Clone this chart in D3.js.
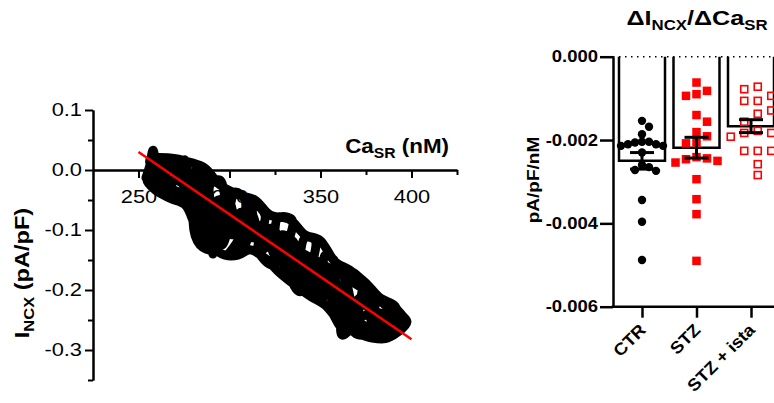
<!DOCTYPE html>
<html>
<head>
<meta charset="utf-8">
<script src="https://cdn.jsdelivr.net/npm/d3@7"></script>
<style>
body { margin: 0; background: #fff; }
svg { display: block; font-family: Arial, "Liberation Sans", sans-serif; }
</style>
</head>
<body>
<script>
// ---- left panel: I_NCX vs Ca_SR trace ----
const caSR = [254.1, 256.3, 258.0, 260.2, 263.5, 266.2, 271.7, 275.6, 278.3, 282.7, 285.4, 280.0, 283.8, 290.4, 292.0,
    289.3, 294.8, 299.2, 303.0, 308.5, 304.7, 299.2, 308.5, 314.0, 319.5, 315.7, 323.4, 326.7, 334.4, 330.5,
    336.0, 341.5, 347.0, 344.2, 350.8, 352.5, 358.0, 356.3, 363.5, 366.2, 372.8, 370.6, 377.2, 381.6, 389.3,
    394.8, 397.5, 392.6, 385.5, 381.6, 374.5, 367.3, 361.8, 360.7, 354.1, 350.8, 345.3, 338.7, 333.3, 336.0,
    328.9, 322.3, 317.9, 311.3, 312.4, 305.8, 301.4, 297.5, 292.0, 286.5, 281.0, 275.6, 270.1, 262.9, 257.4,
    255.2, 261.8, 268.4, 277.2, 283.8, 282.7, 286.5, 289.3, 286.5, 290.4, 299.2, 306.9, 314.0, 321.2, 325.0,
    332.2, 338.7, 337.6, 345.3, 348.6, 355.2, 359.6, 361.8, 367.3, 371.7, 377.2, 378.3, 385.5, 388.2, 382.7,
    376.1, 366.2, 369.5,
    393.7, 388.2, 380.0, 374.5, 367.3, 363.5, 358.0, 352.5, 347.0, 341.5, 337.6, 332.2, 326.7, 322.3, 316.8,
    311.3, 308.5, 303.0, 295.9, 293.7, 286.5, 282.7, 278.3, 272.8, 267.3, 260.7,
    256.3, 267.3, 278.3, 286.5, 294.8, 305.8, 314.0, 322.3, 333.3, 341.5, 349.7, 358.0, 366.2, 374.5, 382.7,
    391.0, 393.7, 387.1, 378.3, 369.0, 360.7, 352.5, 344.2, 336.0, 327.8, 319.5, 311.3, 304.7, 297.5, 292.0,
    286.5, 281.0, 275.6, 267.3, 259.1, 254.7,
    388.2, 382.7, 376.1, 369.0, 363.5, 358.0, 350.8, 344.2, 337.6, 331.6, 325.0, 317.9, 312.4, 305.8, 299.2,
    292.0, 290.9, 286.5, 281.0, 273.9, 267.3, 261.8];
const iNCX = [-0.013, 0.008, 0.033, 0.008, 0.020, -0.033, 0.000, 0.017, -0.050, 0.008, -0.013, -0.087, -0.125, -0.133, -0.097,
    -0.025, -0.017, -0.067, -0.037, -0.050, -0.117, -0.142, -0.125, -0.058, -0.075, -0.133, -0.158, -0.080, -0.083, -0.150,
    -0.187, -0.113, -0.117, -0.192, -0.217, -0.142, -0.153, -0.233, -0.267, -0.170, -0.187, -0.250, -0.275, -0.217, -0.225,
    -0.242, -0.253, -0.270, -0.280, -0.258, -0.242, -0.263, -0.275, -0.217, -0.200, -0.163, -0.153, -0.203, -0.175, -0.125,
    -0.108, -0.130, -0.103, -0.080, -0.113, -0.087, -0.108, -0.047, -0.058, -0.075, -0.042, -0.025, -0.017, -0.025, -0.020,
    -0.008, -0.003, 0.013, -0.003, -0.033, -0.103, -0.117, -0.108, -0.092, -0.067, -0.092, -0.070, -0.097, -0.108, -0.142,
    -0.133, -0.153, -0.175, -0.175, -0.200, -0.183, -0.192, -0.247, -0.225, -0.213, -0.200, -0.233, -0.242, -0.263, -0.280,
    -0.263, -0.250, -0.273,
    -0.263, -0.242, -0.267, -0.217, -0.242, -0.192, -0.225, -0.180, -0.208, -0.153, -0.187, -0.117, -0.153, -0.097, -0.125,
    -0.058, -0.108, -0.075, -0.125, -0.050, -0.103, -0.017, -0.037, -0.017, 0.000, -0.013,
    0.017, 0.020, 0.013, 0.003, -0.025, -0.042, -0.050, -0.075, -0.083, -0.108, -0.117, -0.153, -0.167, -0.187, -0.213,
    -0.227, -0.258, -0.280, -0.280, -0.270, -0.253, -0.225, -0.210, -0.192, -0.172, -0.147, -0.133, -0.142, -0.142, -0.133,
    -0.125, -0.092, -0.058, -0.047, -0.033, -0.017,
    -0.237, -0.263, -0.213, -0.237, -0.187, -0.217, -0.153, -0.192, -0.133, -0.167, -0.103, -0.133, -0.075, -0.113, -0.050,
    -0.087, -0.140, -0.013, -0.058, 0.003, -0.025, 0.008];
const fitCa = [250, 400];
const fitI = [0.030, -0.282];
const xMajor = [250, 300, 350, 400];
const xMinor = [275, 325, 375, 425];
const yMajor = [0.1, 0, -0.1, -0.2, -0.3];
const yMinor = [0.05, -0.05, -0.15, -0.25, -0.35];

// ---- right panel: slope per cell ----
const groups = ["CTR", "STZ", "STZ + ista"];
const ctrVals = [-0.00154, -0.00168, -0.00186, -0.00204, -0.00204, -0.00206, -0.0021, -0.0021, -0.00214, -0.00214,
    -0.0023, -0.0026, -0.00265, -0.00272, -0.00274, -0.00344, -0.00396, -0.00488];
const stzVals = [-0.00062, -0.00082, -0.0009, -0.00094, -0.0014, -0.00156, -0.00181, -0.00191, -0.00206, -0.00208,
    -0.00241, -0.00244, -0.00246, -0.0025, -0.00254, -0.00294, -0.00342, -0.00378, -0.0049];
const istaVals = [-0.00072, -0.00078, -0.00094, -0.00106, -0.00106, -0.00129, -0.00137, -0.00156, -0.00178, -0.00183,
    -0.00183, -0.00192, -0.00226, -0.00226, -0.00226, -0.00258, -0.00284];
const rTicks = [0, -0.002, -0.004, -0.006];

var W = 774, H = 403;
var svg = d3.select("body").append("svg")
    .attr("width", W)
    .attr("height", H);

// text in the source is a bit wider than Arial, so stretch it sideways
function stretch(sel, sx) {
    sel.each(function () {
        var t = d3.select(this);
        var x = +t.attr("x") || 0, y = +t.attr("y") || 0;
        t.attr("x", 0).attr("y", 0)
            .attr("transform", "translate(" + x + "," + y + ") scale(" + sx + ",1)");
    });
}

// ================= left panel =================
var xL = d3.scaleLinear().domain([225, 425]).range([93, 457]);
var yL = d3.scaleLinear().domain([-0.35, 0.1]).range([380, 110]);

var left = svg.append("g");

left.append("g")
    .attr("transform", "translate(" + xL(225) + ",0)")
    .call(d3.axisLeft(yL).tickValues(yMinor).tickSize(5).tickSizeOuter(0).tickFormat(""));
left.append("g")
    .attr("transform", "translate(" + xL(225) + ",0)")
    .call(d3.axisLeft(yL).tickValues(yMajor).tickSize(8).tickSizeOuter(0).tickPadding(3)
        .tickFormat(d => d.toFixed(1)));

left.append("g")
    .attr("transform", "translate(0," + yL(0) + ")")
    .call(d3.axisBottom(xL).tickValues(xMinor).tickSize(5).tickSizeOuter(0).tickFormat(""));
left.append("g")
    .attr("transform", "translate(0," + yL(0) + ")")
    .call(d3.axisBottom(xL).tickValues(xMajor).tickSize(8).tickSizeOuter(0).tickPadding(12));

left.selectAll(".domain, .tick line").attr("stroke", "#000").attr("stroke-width", 2);
left.selectAll(".tick text")
    .attr("fill", "#000")
    .attr("font-family", "Arial, 'Liberation Sans', sans-serif")
    .attr("font-size", 18.5);
stretch(left.selectAll(".tick text"), 1.18);

// trace
var trace = d3.line()
    .x(i => xL(caSR[i]))
    .y(i => yL(iNCX[i]))
    .curve(d3.curveCatmullRom.alpha(0.5));

left.append("path")
    .datum(d3.range(caSR.length))
    .attr("d", trace)
    .attr("fill", "none")
    .attr("stroke", "#000")
    .attr("stroke-width", 9)
    .attr("stroke-linejoin", "round")
    .attr("stroke-linecap", "round");

// linear fit
left.append("line")
    .attr("x1", xL(fitCa[0])).attr("y1", yL(fitI[0]))
    .attr("x2", xL(fitCa[1])).attr("y2", yL(fitI[1]))
    .attr("stroke", "#ff0000")
    .attr("stroke-width", 2.5);

// axis titles
var xTitle = left.append("text")
    .attr("x", 449).attr("y", 153)
    .attr("text-anchor", "end")
    .attr("font-weight", "bold")
    .attr("font-size", 20);
xTitle.append("tspan").text("Ca");
xTitle.append("tspan").attr("font-size", 14).attr("dy", 5).text("SR");
xTitle.append("tspan").attr("dy", -5).text(" (nM)");
stretch(xTitle, 1.12);

var yTitle = left.append("text")
    .attr("text-anchor", "middle")
    .attr("font-weight", "bold")
    .attr("font-size", 20)
    .attr("transform", "translate(29,273) rotate(-90) scale(1.18,1)");
yTitle.append("tspan").text("I");
yTitle.append("tspan").attr("font-size", 14).attr("dy", 5).text("NCX");
yTitle.append("tspan").attr("dy", -5).text(" (pA/pF)");

// ================= right panel =================
var xR = d3.scalePoint().domain(groups).range([642, 751]);
var yR = d3.scaleLinear().domain([-0.006, 0]).range([306.7, 56.7]);
var axX = 613, barW = 46;

var right = svg.append("g");

var groupStyle = [
    { vals: ctrVals, step: 7, minD: 6.8, phase: 0, shape: "dot" },
    { vals: stzVals, step: 10.5, minD: 9, phase: 0, shape: "fill" },
    { vals: istaVals, step: 13.5, minD: 10, phase: 0.5, shape: "open" }
];

function swarm(vals, step, minD, phase) {
    var placed = [];
    return vals.map(function (v) {
        var y = yR(v), off = 0;
        for (var i = 0; i < 40; i++) {
            off = phase
                ? (i % 2 ? -1 : 1) * (Math.floor(i / 2) + 0.5) * step
                : (i % 2 ? 1 : -1) * Math.ceil(i / 2) * step;
            var hit = placed.some(p => Math.hypot(p.dx - off, p.y - y) < minD);
            if (!hit) break;
        }
        placed.push({ dx: off, y: y });
        return { v: v, dx: off, y: y };
    });
}

// bars (open at the top, sitting on the dotted zero line)
groups.forEach(function (g, gi) {
    var vals = groupStyle[gi].vals;
    var m = d3.mean(vals);
    var cx = xR(g);
    right.append("path")
        .attr("d", "M" + (cx - barW / 2) + "," + yR(0) + "V" + yR(m) + "H" + (cx + barW / 2) + "V" + yR(0))
        .attr("fill", "none")
        .attr("stroke", "#000")
        .attr("stroke-width", 2.5);
});

right.append("line")
    .attr("x1", axX).attr("x2", W + 5)
    .attr("y1", yR(0)).attr("y2", yR(0))
    .attr("stroke", "#000")
    .attr("stroke-width", 1.5)
    .attr("stroke-dasharray", "1.5,4.5");

// points
groups.forEach(function (g, gi) {
    var st = groupStyle[gi];
    var pts = swarm(st.vals, st.step, st.minD, st.phase);
    var cx = xR(g);
    if (st.shape === "dot") {
        right.selectAll(null).data(pts).enter().append("circle")
            .attr("cx", d => cx + d.dx)
            .attr("cy", d => d.y)
            .attr("r", 4.2)
            .attr("fill", "#000");
    } else {
        var s = st.shape === "fill" ? 8.5 : 7;
        right.selectAll(null).data(pts).enter().append("rect")
            .attr("x", d => cx + d.dx - s / 2)
            .attr("y", d => d.y - s / 2)
            .attr("width", s).attr("height", s)
            .attr("fill", st.shape === "fill" ? "#ff0000" : "none")
            .attr("stroke", st.shape === "fill" ? "none" : "#ff0000")
            .attr("stroke-width", 1.6);
    }
});

// mean +/- SEM
groups.forEach(function (g, gi) {
    var vals = groupStyle[gi].vals;
    var m = d3.mean(vals);
    var sem = d3.deviation(vals) / Math.sqrt(vals.length);
    var cx = xR(g), cap = 12;
    var eb = right.append("g").attr("stroke", "#000").attr("stroke-width", 3);
    eb.append("line").attr("x1", cx).attr("x2", cx).attr("y1", yR(m + sem)).attr("y2", yR(m - sem));
    eb.append("line").attr("x1", cx - cap).attr("x2", cx + cap).attr("y1", yR(m + sem)).attr("y2", yR(m + sem));
    eb.append("line").attr("x1", cx - cap).attr("x2", cx + cap).attr("y1", yR(m - sem)).attr("y2", yR(m - sem));
});

// axes
var rY = right.append("g")
    .attr("transform", "translate(" + axX + ",0)")
    .call(d3.axisLeft(yR).tickValues(rTicks).tickSize(13).tickSizeOuter(0).tickPadding(2)
        .tickFormat(d => d.toFixed(3)));

right.append("line")
    .attr("x1", axX - 1.25).attr("x2", W + 5)
    .attr("y1", yR(-0.006)).attr("y2", yR(-0.006))
    .attr("stroke", "#000")
    .attr("stroke-width", 2.5);

var rX = right.append("g")
    .attr("transform", "translate(0," + yR(-0.006) + ")")
    .call(d3.axisBottom(xR).tickSize(11).tickSizeOuter(0).tickFormat(""));
rX.select(".domain").remove();

right.selectAll(".domain, .tick line").attr("stroke", "#000").attr("stroke-width", 2.5);
rY.selectAll(".tick text")
    .attr("fill", "#000")
    .attr("font-family", "Arial, 'Liberation Sans', sans-serif")
    .attr("font-weight", "bold")
    .attr("font-size", 16.5);
stretch(rY.selectAll(".tick text"), 1.12);

right.selectAll(null).data(groups).enter().append("text")
    .attr("text-anchor", "end")
    .attr("font-weight", "bold")
    .attr("font-size", 17)
    .attr("transform", d => "translate(" + (xR(d) + 5) + ",331) rotate(-45) scale(1.08,1)")
    .text(d => d);

right.append("text")
    .attr("text-anchor", "middle")
    .attr("font-weight", "bold")
    .attr("font-size", 17)
    .attr("transform", "translate(539,180) rotate(-90) scale(1.12,1)")
    .text("pA/pF/nM");

var title = right.append("text")
    .attr("text-anchor", "middle")
    .attr("font-weight", "bold")
    .attr("font-size", 21)
    .attr("transform", "translate(697,25) scale(1.2,1)");
title.append("tspan").text("\u0394I");
title.append("tspan").attr("font-size", 14).attr("dy", 5).text("NCX");
title.append("tspan").attr("dy", -5).text("/\u0394Ca");
title.append("tspan").attr("font-size", 14).attr("dy", 5).text("SR");
</script>
</body>
</html>
